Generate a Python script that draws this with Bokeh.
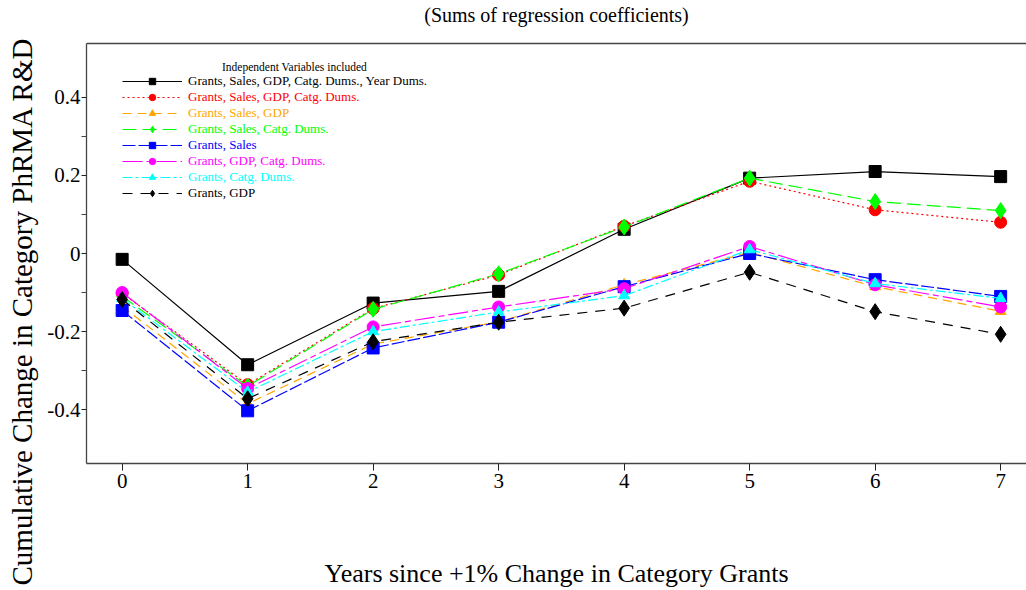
from bokeh.plotting import figure
from bokeh.models import (Range1d, LinearAxis, FixedTicker, Label, Legend, LegendItem, Title)
from bokeh.embed import file_html
from bokeh.resources import INLINE

# ---- data ----
years = [0, 1, 2, 3, 4, 5, 6, 7]
x_tick_labels = ["0", "1", "2", "3", "4", "5", "6", "7"]
y_major_ticks = [-0.4, -0.2, 0.0, 0.2, 0.4]
y_tick_labels = ["-0.4", "-0.2", "0", "0.2", "0.4"]
y_minor_ticks = [-0.3, -0.1, 0.1, 0.3]

series_names = [
    "Grants, Sales, GDP, Catg. Dums., Year Dums.",
    "Grants, Sales, GDP, Catg. Dums.",
    "Grants, Sales, GDP",
    "Grants, Sales, Catg. Dums.",
    "Grants, Sales",
    "Grants, GDP, Catg. Dums.",
    "Grants, Catg. Dums.",
    "Grants, GDP",
]
s_sales_gdp_catg_year = [-0.015, -0.285, -0.127, -0.097, 0.062, 0.193, 0.210, 0.197]
s_sales_gdp_catg = [-0.102, -0.336, -0.141, -0.055, 0.070, 0.185, 0.112, 0.080]
s_sales_gdp = [-0.135, -0.385, -0.232, -0.175, -0.080, 0.003, -0.085, -0.148]
s_sales_catg = [-0.110, -0.340, -0.143, -0.052, 0.068, 0.193, 0.133, 0.110]
s_sales = [-0.146, -0.403, -0.242, -0.176, -0.085, 0.000, -0.067, -0.110]
s_gdp_catg = [-0.100, -0.346, -0.188, -0.137, -0.090, 0.018, -0.080, -0.137]
s_catg = [-0.115, -0.355, -0.200, -0.150, -0.108, 0.010, -0.077, -0.115]
s_gdp = [-0.118, -0.372, -0.226, -0.176, -0.140, -0.048, -0.149, -0.207]

series_values = [s_sales_gdp_catg_year, s_sales_gdp_catg, s_sales_gdp, s_sales_catg,
                 s_sales, s_gdp_catg, s_catg, s_gdp]

title_text = "(Sums of regression coefficients)"
x_label = "Years since +1% Change in Category Grants"
y_label = "Cumulative Change in Category PhRMA R&D"
legend_title = "Independent Variables included"

# ---- styles ----
colors = ["#000000", "#FF0000", "#FFA500", "#00FF00", "#0000FF", "#FF00FF", "#00FFFF", "#000000"]
dashes = ["solid", "2 3", "9 6", "14 6", "13 3", "20 4 6 4", "10 3 3 3", "10 8"]
markers = ["square", "circle", "triangle", "diamond", "square", "circle", "triangle", "diamond"]
msizes = [12, 12, 11, 16, 12, 12, 11, 16]

SERIF = "Liberation Serif"

p = figure(width=1026, height=590, output_backend="svg", toolbar_location=None,
           x_range=Range1d(-0.284, 7.206), y_range=Range1d(-0.538, 0.538),
           min_border_left=86, min_border_right=0, min_border_top=42, min_border_bottom=127,
           x_axis_type=None, y_axis_type=None, outline_line_color=None)
p.grid.visible = False
p.background_fill_color = "white"
p.border_fill_color = "white"

axis_color = "#444444"

xaxis = LinearAxis(ticker=FixedTicker(ticks=years))
xaxis.major_label_overrides = {y: l for y, l in zip(years, x_tick_labels)}
xaxis.major_tick_out = 7
xaxis.major_tick_in = 0
xaxis.minor_tick_out = 0
xaxis.axis_line_color = axis_color
xaxis.axis_line_width = 1.3
xaxis.major_tick_line_color = "#222222"
xaxis.major_label_text_font = SERIF
xaxis.major_label_text_font_size = "21px"
xaxis.major_label_text_color = "black"
xaxis.major_label_standoff = 3
xaxis.axis_label = x_label
xaxis.axis_label_text_font = SERIF
xaxis.axis_label_text_font_size = "26px"
xaxis.axis_label_text_font_style = "normal"
xaxis.axis_label_text_color = "black"
xaxis.axis_label_standoff = 68
p.add_layout(xaxis, "below")

yaxis = LinearAxis(ticker=FixedTicker(ticks=y_major_ticks, minor_ticks=y_minor_ticks))
yaxis.major_label_overrides = {t: l for t, l in zip(y_major_ticks, y_tick_labels)}
yaxis.major_tick_out = 5
yaxis.major_tick_in = 0
yaxis.minor_tick_out = 5
yaxis.minor_tick_in = 0
yaxis.axis_line_color = axis_color
yaxis.axis_line_width = 1.3
yaxis.major_tick_line_color = "#222222"
yaxis.minor_tick_line_color = "#444444"
yaxis.major_label_text_font = SERIF
yaxis.major_label_text_font_size = "21px"
yaxis.major_label_text_color = "black"
yaxis.major_label_standoff = 1
p.add_layout(yaxis, "left")

ytitle = Title(text=y_label, align="left", offset=-122, vertical_align="top",
               standoff=9, text_font=SERIF, text_font_size="29px",
               text_font_style="normal", text_color="black")
p.add_layout(ytitle, "left")

top = LinearAxis(ticker=FixedTicker(ticks=[]))
top.major_tick_out = 0
top.minor_tick_out = 0
top.major_label_text_font_size = "0px"
top.axis_line_color = axis_color
top.axis_line_width = 1.3
top.axis_label = title_text
top.axis_label_text_font = SERIF
top.axis_label_text_font_size = "20px"
top.axis_label_text_font_style = "normal"
top.axis_label_text_color = "black"
top.axis_label_standoff = 18
p.add_layout(top, "above")

renderers = []
for vals, c, d, m, s in zip(series_values, colors, dashes, markers, msizes):
    lr = p.line(years, vals, line_color=c, line_width=1.2, line_dash=d)
    sr = p.scatter(years, vals, marker=m, size=s, fill_color=c, line_color=c)
    renderers.append((lr, sr))

# ---- legend (one per entry for per-entry text colours) ----
for i, (name, c, (lr, sr)) in enumerate(zip(series_names, colors, renderers)):
    lg = Legend(items=[LegendItem(label=name, renderers=[lr, sr])],
                location=(36, 374 - 16 * i), orientation="vertical",
                background_fill_alpha=0, border_line_alpha=0,
                padding=0, margin=0, spacing=0,
                glyph_width=60, glyph_height=16, label_height=16, label_standoff=6,
                label_text_font=SERIF, label_text_font_size="13px",
                label_text_color=c, label_text_baseline="middle")
    p.add_layout(lg)

p.add_layout(Label(x=208, y=397, x_units="screen", y_units="screen",
                   text=legend_title, text_font=SERIF,
                   text_font_size="11.5px", text_align="center", text_baseline="middle",
                   text_color="black"))

open("out.html", "w").write(file_html(p, INLINE))
